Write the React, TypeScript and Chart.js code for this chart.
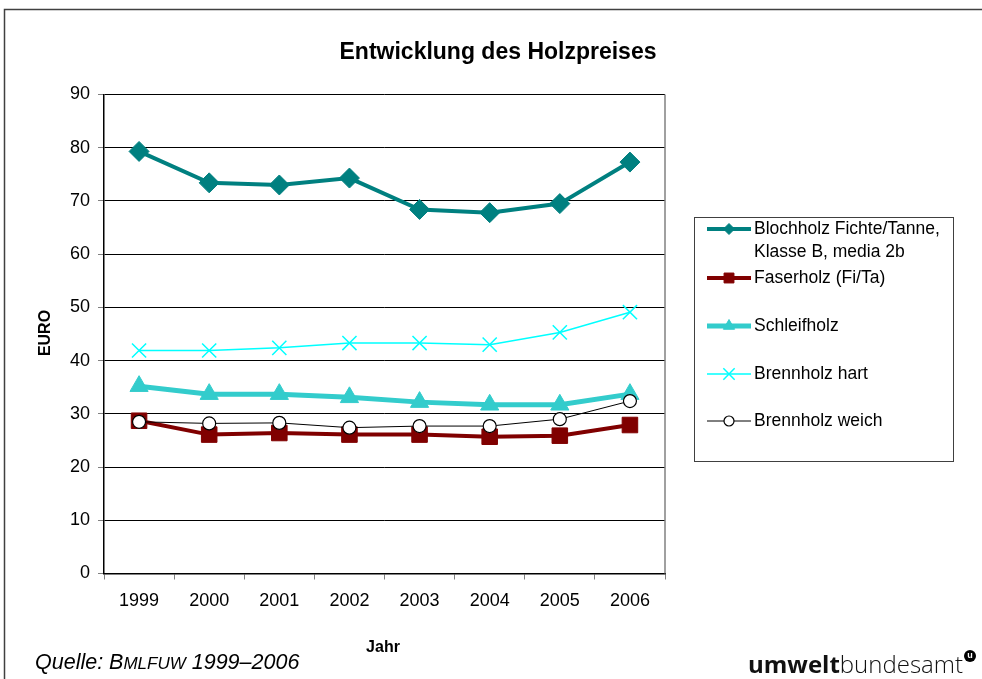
import React, { useEffect, useRef } from 'react';
import { Chart, registerables } from 'chart.js';
import { drawPoint } from 'chart.js/helpers';

Chart.register(...registerables);

const years = ['1999', '2000', '2001', '2002', '2003', '2004', '2005', '2006'];
const blochholz = [79.3, 73.4, 73.0, 74.3, 68.4, 67.8, 69.5, 77.3];
const faserholz = [28.7, 26.1, 26.4, 26.1, 26.1, 25.7, 25.9, 27.9];
const schleifholz = [35.2, 33.7, 33.7, 33.1, 32.2, 31.7, 31.7, 33.7];
const brennholzHart = [41.9, 41.9, 42.4, 43.3, 43.3, 43.0, 45.3, 49.1];
const brennholzWeich = [28.5, 28.2, 28.3, 27.4, 27.7, 27.7, 29.0, 32.4];
const yTicks = [0, 10, 20, 30, 40, 50, 60, 70, 80, 90];

const FONT = '"Liberation Sans", Arial, sans-serif';

const legendItems = [
  { label: ['Blochholz Fichte/Tanne,', 'Klasse B, media 2b'], y: 229, ly: [229, 252], r: 5.5 },
  { label: ['Faserholz (Fi/Ta)'], y: 278, ly: [278], r: 7 },
  { label: ['Schleifholz'], y: 326, ly: [326], r: 6.5 },
  { label: ['Brennholz hart'], y: 374, ly: [374], r: 8 },
  { label: ['Brennholz weich'], y: 421, ly: [421], r: 5 },
];

const decor = {
  id: 'decor',
  afterDraw(chart: any) {
    const ctx: CanvasRenderingContext2D = chart.ctx;
    const a = chart.chartArea;
    ctx.save();

    // plot right border
    ctx.strokeStyle = '#808080';
    ctx.lineWidth = 1.5;
    ctx.beginPath();
    ctx.moveTo(a.right, a.top);
    ctx.lineTo(a.right, a.bottom);
    ctx.stroke();

    // outer frame
    ctx.strokeStyle = '#404040';
    ctx.lineWidth = 1.5;
    ctx.beginPath();
    ctx.moveTo(4.5, 690);
    ctx.lineTo(4.5, 9.5);
    ctx.lineTo(990, 9.5);
    ctx.stroke();

    // title
    ctx.fillStyle = '#000';
    ctx.textAlign = 'center';
    ctx.textBaseline = 'middle';
    ctx.font = 'bold 23px ' + FONT;
    ctx.fillText('Entwicklung des Holzpreises', 498, 53);

    // axis titles
    ctx.font = 'bold 16px ' + FONT;
    ctx.fillText('Jahr', 383, 648);
    ctx.save();
    ctx.translate(46, 333);
    ctx.rotate(-Math.PI / 2);
    ctx.fillText('EURO', 0, 0);
    ctx.restore();

    // source
    ctx.textAlign = 'left';
    ctx.textBaseline = 'alphabetic';
    let x = 35;
    const by = 669;
    const parts: [string, number][] = [['Quelle: ', 21.5], ['B', 21.5], ['MLFUW', 17], [' 1999\u20132006', 21.5]];
    for (const [t, s] of parts) {
      ctx.font = 'italic ' + s + 'px ' + FONT;
      ctx.fillText(t, x, by);
      x += ctx.measureText(t).width;
    }

    // logo
    ctx.font = 'bold 24px "Open Sans", sans-serif';
    ctx.fillStyle = '#111';
    ctx.fillText('umwelt', 748, 673);
    const w1 = ctx.measureText('umwelt').width;
    ctx.font = '300 24px "Open Sans", sans-serif';
    ctx.fillText('bundesamt', 748 + w1, 673);
    ctx.beginPath();
    ctx.arc(970, 656, 6, 0, Math.PI * 2);
    ctx.fillStyle = '#000';
    ctx.fill();
    ctx.fillStyle = '#fff';
    ctx.font = 'bold 9px ' + FONT;
    ctx.textAlign = 'center';
    ctx.textBaseline = 'middle';
    ctx.fillText('u', 970, 656);

    // legend box
    ctx.strokeStyle = '#404040';
    ctx.lineWidth = 1;
    ctx.strokeRect(694.5, 217.5, 259, 244);
    const ds = chart.data.datasets;
    legendItems.forEach((it, i) => {
      const d = ds[i];
      ctx.strokeStyle = d.borderColor;
      ctx.lineWidth = d.borderWidth;
      ctx.beginPath();
      ctx.moveTo(707, it.y);
      ctx.lineTo(751, it.y);
      ctx.stroke();
      ctx.fillStyle = d.pointBackgroundColor;
      ctx.strokeStyle = d.pointBorderColor;
      ctx.lineWidth = d.pointBorderWidth;
      drawPoint(ctx, { pointStyle: d.pointStyle, radius: it.r, rotation: 0, borderWidth: d.pointBorderWidth }, 729, it.y);
      ctx.fillStyle = '#000';
      ctx.font = '17.5px ' + FONT;
      ctx.textAlign = 'left';
      ctx.textBaseline = 'middle';
      it.label.forEach((l, j) => ctx.fillText(l, 754, it.ly[j]));
    });

    ctx.restore();
  },
};

export default function App() {
  const ref = useRef<HTMLCanvasElement>(null);
  useEffect(() => {
    if (!ref.current) return;
    const chart = new Chart(ref.current, {
      type: 'line',
      data: {
        labels: years,
        datasets: [
          {
            label: 'Blochholz Fichte/Tanne, Klasse B, media 2b',
            data: blochholz,
            borderColor: '#008080',
            backgroundColor: '#008080',
            borderWidth: 4,
            pointStyle: 'rectRot',
            pointRadius: 10,
            pointBackgroundColor: '#008080',
            pointBorderColor: '#008080',
            pointBorderWidth: 1,
            order: 5,
          },
          {
            label: 'Faserholz (Fi/Ta)',
            data: faserholz,
            borderColor: '#800000',
            backgroundColor: '#800000',
            borderWidth: 4,
            pointStyle: 'rect',
            pointRadius: 11,
            pointBackgroundColor: '#800000',
            pointBorderColor: '#800000',
            pointBorderWidth: 1,
            order: 4,
          },
          {
            label: 'Schleifholz',
            data: schleifholz,
            borderColor: '#33CCCC',
            backgroundColor: '#33CCCC',
            borderWidth: 5,
            pointStyle: 'triangle',
            pointRadius: 10.5,
            pointBackgroundColor: '#33CCCC',
            pointBorderColor: '#33CCCC',
            pointBorderWidth: 1,
            order: 3,
          },
          {
            label: 'Brennholz hart',
            data: brennholzHart,
            borderColor: '#00FFFF',
            backgroundColor: '#00FFFF',
            borderWidth: 1.5,
            pointStyle: 'crossRot',
            pointRadius: 10,
            pointBackgroundColor: '#00FFFF',
            pointBorderColor: '#00FFFF',
            pointBorderWidth: 1.5,
            order: 2,
          },
          {
            label: 'Brennholz weich',
            data: brennholzWeich,
            borderColor: '#000000',
            backgroundColor: '#ffffff',
            borderWidth: 1,
            pointStyle: 'circle',
            pointRadius: 6.5,
            pointBackgroundColor: '#ffffff',
            pointBorderColor: '#000000',
            pointBorderWidth: 1.2,
            order: 1,
          },
        ],
      },
      options: {
        responsive: false,
        animation: false,
        events: [],
        layout: { padding: { left: 54, right: 317, top: 94.5, bottom: 65.5 } },
        elements: { line: { tension: 0 } },
        plugins: { legend: { display: false }, title: { display: false }, tooltip: { enabled: false } },
        scales: {
          x: {
            offset: true,
            afterFit: (s: any) => { s.height = 40; },
            grid: { display: true, drawOnChartArea: false, drawTicks: true, tickLength: 6, offset: true, color: '#808080', tickColor: '#808080' },
            border: { display: true, color: '#000', width: 1.5 },
            ticks: { color: '#000', font: { size: 18, family: FONT }, padding: 11, maxRotation: 0 },
          },
          y: {
            min: 0,
            max: 90,
            afterFit: (s: any) => { s.width = 50; },
            afterBuildTicks: (s: any) => { s.ticks = yTicks.map((v) => ({ value: v })); },
            grid: { color: '#000', lineWidth: 1, drawTicks: true, tickLength: 6, tickColor: '#808080' },
            border: { display: true, color: '#000', width: 1.5 },
            ticks: { color: '#000', font: { size: 18, family: FONT }, padding: 8 },
          },
        },
      },
      plugins: [decor],
    });
    return () => chart.destroy();
  }, []);
  return (
    <div style={{ position: 'fixed', left: 0, top: 0, width: 982, height: 679, background: '#fff' }}>
      <canvas ref={ref} width={982} height={679} style={{ width: 982, height: 679, display: 'block' }} />
    </div>
  );
}
